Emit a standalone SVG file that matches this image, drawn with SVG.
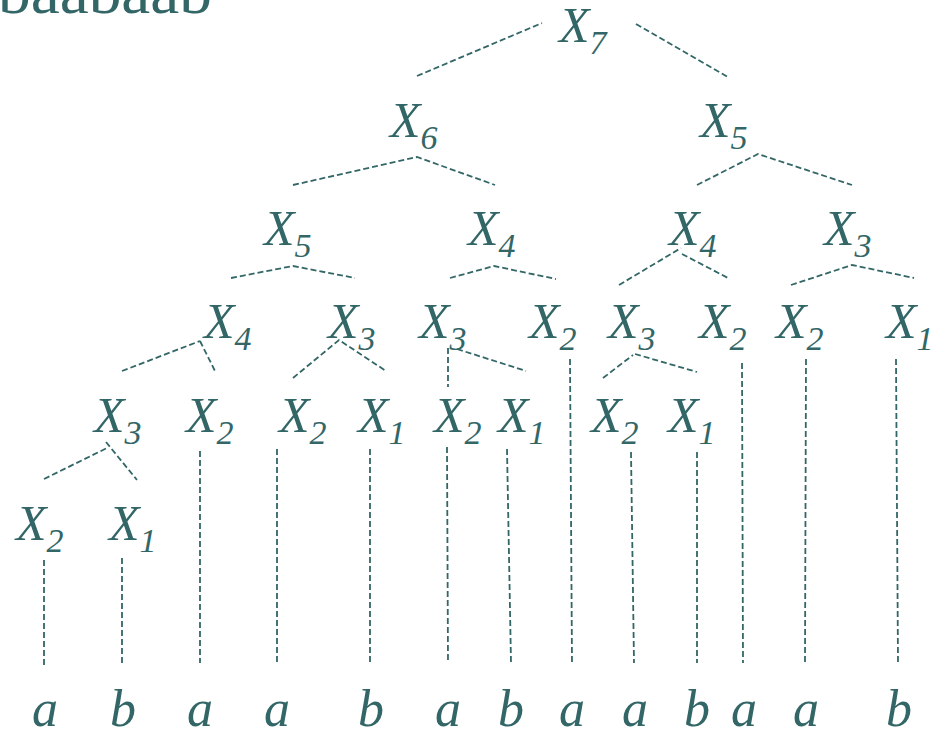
<svg xmlns="http://www.w3.org/2000/svg" width="931" height="730" viewBox="0 0 931 730">
<style>
text{font-family:'Liberation Serif','Times New Roman',serif}
.n{font-style:italic;font-size:50px;fill:#336666}
.s{font-size:34px}
.lf{font-style:italic;font-size:52px;fill:#336666;text-anchor:middle}
.t{font-size:60px;fill:#336666}
#edges line,#edges polyline{fill:none;stroke:#336666;stroke-width:1.8;stroke-dasharray:6 3}
</style>
<rect width="931" height="730" fill="#fff"/>
<text class="t" x="-2" y="13" textLength="214" lengthAdjust="spacingAndGlyphs">baabaab</text>
<g id="edges">
<line x1="417" y1="76" x2="542" y2="23"/>
<line x1="636" y1="24" x2="728" y2="77"/>
<polyline points="293,185 417,157 495,185"/>
<polyline points="697,185 758,154 852,185"/>
<polyline points="231,278 293,266 355,278"/>
<polyline points="450,278 494,266 556,279"/>
<line x1="619" y1="285" x2="681" y2="248"/>
<line x1="682" y1="254" x2="728" y2="278"/>
<polyline points="791,285 852,265 914,278"/>
<line x1="122" y1="371" x2="200" y2="341"/>
<line x1="200" y1="341" x2="215" y2="371"/>
<polyline points="293,378 339,340 386,371"/>
<line x1="448" y1="348" x2="448" y2="387"/>
<line x1="457" y1="349" x2="526" y2="371"/>
<line x1="570" y1="359" x2="572" y2="663"/>
<line x1="603" y1="378" x2="633" y2="355"/>
<line x1="635" y1="354" x2="697" y2="372"/>
<line x1="742" y1="363" x2="743" y2="663"/>
<line x1="806" y1="359" x2="805" y2="663"/>
<line x1="896" y1="359" x2="898" y2="663"/>
<line x1="44" y1="479" x2="107" y2="448"/>
<line x1="106" y1="442" x2="137" y2="480"/>
<line x1="200" y1="451" x2="200" y2="663"/>
<line x1="277" y1="449" x2="277" y2="663"/>
<line x1="370" y1="449" x2="370" y2="663"/>
<line x1="447" y1="447" x2="448" y2="663"/>
<line x1="507" y1="449" x2="511" y2="663"/>
<line x1="631" y1="452" x2="634" y2="663"/>
<line x1="697" y1="452" x2="697" y2="663"/>
<line x1="44" y1="560" x2="44" y2="667"/>
<line x1="122" y1="558" x2="122" y2="663"/>
</g>
<g id="n_x7"><text class="n" x="559" y="42">X<tspan class="s" dy="12">7</tspan></text></g>
<g id="n_x6"><text class="n" x="390" y="137">X<tspan class="s" dy="12">6</tspan></text></g>
<g id="n_x5r"><text class="n" x="700" y="137">X<tspan class="s" dy="12">5</tspan></text></g>
<g id="n_x5l"><text class="n" x="264" y="245">X<tspan class="s" dy="12">5</tspan></text></g>
<g id="n_x4a"><text class="n" x="468" y="245">X<tspan class="s" dy="12">4</tspan></text></g>
<g id="n_x4b"><text class="n" x="669" y="245">X<tspan class="s" dy="12">4</tspan></text></g>
<g id="n_x3a"><text class="n" x="824" y="245">X<tspan class="s" dy="12">3</tspan></text></g>
<g id="n_x4c"><text class="n" x="204" y="338">X<tspan class="s" dy="12">4</tspan></text></g>
<g id="n_x3b"><text class="n" x="328" y="338">X<tspan class="s" dy="12">3</tspan></text></g>
<g id="n_x3c"><text class="n" x="419" y="338">X<tspan class="s" dy="12">3</tspan></text></g>
<g id="n_x2a"><text class="n" x="529" y="338">X<tspan class="s" dy="12">2</tspan></text></g>
<g id="n_x3d"><text class="n" x="608" y="338">X<tspan class="s" dy="12">3</tspan></text></g>
<g id="n_x2b"><text class="n" x="699" y="338">X<tspan class="s" dy="12">2</tspan></text></g>
<g id="n_x2c"><text class="n" x="776" y="338">X<tspan class="s" dy="12">2</tspan></text></g>
<g id="n_x1a"><text class="n" x="886" y="338">X<tspan class="s" dy="12">1</tspan></text></g>
<g id="n_x3e"><text class="n" x="94" y="432">X<tspan class="s" dy="12">3</tspan></text></g>
<g id="n_x2d"><text class="n" x="186" y="432">X<tspan class="s" dy="12">2</tspan></text></g>
<g id="n_x2e"><text class="n" x="279" y="432">X<tspan class="s" dy="12">2</tspan></text></g>
<g id="n_x1b"><text class="n" x="358" y="432">X<tspan class="s" dy="12">1</tspan></text></g>
<g id="n_x2f"><text class="n" x="434" y="432">X<tspan class="s" dy="12">2</tspan></text></g>
<g id="n_x1c"><text class="n" x="498" y="432">X<tspan class="s" dy="12">1</tspan></text></g>
<g id="n_x2g"><text class="n" x="591" y="432">X<tspan class="s" dy="12">2</tspan></text></g>
<g id="n_x1d"><text class="n" x="668" y="432">X<tspan class="s" dy="12">1</tspan></text></g>
<g id="n_x2h"><text class="n" x="16" y="540">X<tspan class="s" dy="12">2</tspan></text></g>
<g id="n_x1e"><text class="n" x="109" y="540">X<tspan class="s" dy="12">1</tspan></text></g>
<g id="leaves">
<g id="l1"><text class="lf" x="45" y="726">a</text></g>
<g id="l2"><text class="lf" x="123" y="726">b</text></g>
<g id="l3"><text class="lf" x="200" y="726">a</text></g>
<g id="l4"><text class="lf" x="277" y="726">a</text></g>
<g id="l5"><text class="lf" x="371" y="726">b</text></g>
<g id="l6"><text class="lf" x="448" y="726">a</text></g>
<g id="l7"><text class="lf" x="511" y="726">b</text></g>
<g id="l8"><text class="lf" x="572" y="726">a</text></g>
<g id="l9"><text class="lf" x="635" y="726">a</text></g>
<g id="l10"><text class="lf" x="697" y="726">b</text></g>
<g id="l11"><text class="lf" x="744" y="726">a</text></g>
<g id="l12"><text class="lf" x="806" y="726">a</text></g>
<g id="l13"><text class="lf" x="899" y="726">b</text></g>
</g>
</svg>
